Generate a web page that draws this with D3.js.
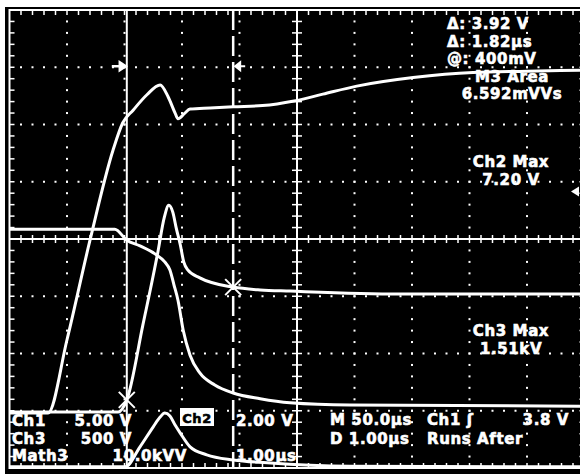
<!DOCTYPE html>
<html>
<head>
<meta charset="utf-8">
<script src="https://cdn.jsdelivr.net/npm/d3@7/dist/d3.min.js"></script>
<style>
body{margin:0;background:#fff;}
svg{display:block;}
text{font-family:"DejaVu Sans",sans-serif;font-weight:bold;font-size:15px;letter-spacing:0.6px;fill:#fff;stroke:#fff;stroke-width:0.6px;}
</style>
</head>
<body>
<script>
// all traces: t in divisions (1.00us/div), v in divisions from centre
var ch2T = [0, 0.67, 1.0, 1.40, 1.80, 1.97, 2.15, 2.39, 2.62, 2.76, 2.88, 2.93, 3.05, 3.14, 3.49, 3.89, 4.40, 4.95, 5.45, 6.04, 7.02, 8.06, 9.0, 10];
var ch2V = [-3.04, -3.04, -1.76, -0.02, 1.55, 2.03, 2.25, 2.52, 2.69, 2.48, 2.20, 2.10, 2.20, 2.27, 2.29, 2.31, 2.33, 2.41, 2.53, 2.67, 2.82, 2.91, 2.93, 2.95];

var ch3T = [0, 1.89, 2.04, 2.32, 2.58, 2.69, 2.77, 2.84, 2.90, 2.97, 3.03, 3.10, 3.31, 3.89, 4.36, 4.88, 6.79, 10];
var ch3V = [-3.02, -3.02, -2.81, -1.50, -0.23, 0.37, 0.59, 0.47, 0.19, -0.10, -0.40, -0.54, -0.68, -0.84, -0.89, -0.91, -0.96, -0.96];

var ch1T = [0, 1.83, 2.04, 2.27, 2.53, 2.70, 2.79, 2.86, 2.93, 3.02, 3.14, 3.31, 3.57, 3.89, 4.36, 4.88, 5.92, 10];
var ch1V = [0.17, 0.17, -0.02, -0.12, -0.26, -0.40, -0.54, -0.80, -1.07, -1.59, -2.03, -2.34, -2.55, -2.69, -2.79, -2.86, -2.90, -2.92];

var mathT = [0, 2.01, 2.27, 2.50, 2.62, 2.70, 2.79, 2.88, 2.97, 3.14, 3.43, 3.89, 4.48, 5.92, 10];
var mathV = [-3.98, -3.98, -3.63, -3.28, -3.11, -3.04, -3.09, -3.25, -3.39, -3.63, -3.77, -3.86, -3.91, -3.97, -3.98];

// cursors (time) and the marked points on Ch3
var cursorT = [2.04, 3.89];
var cursorV = [-2.81, -0.84];

// readouts
var topLeftLines = ["\u0394: 3.92 V", "\u0394: 1.82\u00b5s", "@: 400mV"];
var areaLines = ["M3 Area", "6.592mVVs"];
var ch2MaxLines = ["Ch2 Max", "7.20 V"];
var ch3MaxLines = ["Ch3 Max", "1.51kV"];
var chanNames = ["Ch1", "Ch3", "Math3"];
var chanScales = ["5.00 V", "500 V", "10.0kVV"];

window.onload = function(){
    var width = 580,
        height = 474,
        lh = 17.6; //readout line spacing

    var svg = d3.select("body")
        .append("svg")
        .attr("width", width)
        .attr("height", height);

    //screen: 10 x 8 divisions
    var x = d3.scaleLinear().domain([0, 10]).range([9.5, 584.5]);
    var y = d3.scaleLinear().domain([-4, 4]).range([468, 10]);

    svg.append("rect").attr("width", width).attr("height", height).attr("fill", "#fff");
    svg.append("rect")
        .attr("x", 5).attr("y", 7)
        .attr("width", width - 5).attr("height", height - 7)
        .attr("fill", "#000");

    var g = svg.append("g");

    //dotted graticule
    var minor = d3.range(1, 50).map(function(i){ return i * 0.2; }).filter(function(t){ return t < 9.99; });
    var minorY = d3.range(1, 40).map(function(i){ return -4 + i * 0.2; }).filter(function(v){ return v < 3.99; });
    [1, 2, 3, 4, 6, 7, 8, 9].forEach(function(t){
        g.selectAll(null)
            .data(minorY)
            .enter()
            .append("rect")
            .attr("x", x(t) - 1).attr("y", function(d){ return y(d) - 1; })
            .attr("width", 2).attr("height", 2)
            .attr("fill", "#fff");
    });
    [-3, -2, -1, 1, 2, 3].forEach(function(v){
        g.selectAll(null)
            .data(minor)
            .enter()
            .append("rect")
            .attr("x", function(d){ return x(d) - 1; }).attr("y", y(v) - 1)
            .attr("width", 2).attr("height", 2)
            .attr("fill", "#fff");
    });

    //border
    g.append("rect")
        .attr("x", x(0)).attr("y", y(4))
        .attr("width", x(10) - x(0)).attr("height", y(-4) - y(4))
        .attr("fill", "none").attr("stroke", "#fff").attr("stroke-width", 2);

    //centre axes
    g.append("line").attr("x1", x(0)).attr("x2", x(10)).attr("y1", y(0)).attr("y2", y(0))
        .attr("stroke", "#fff").attr("stroke-width", 2);
    g.append("line").attr("x1", x(5)).attr("x2", x(5)).attr("y1", y(4)).attr("y2", y(-4))
        .attr("stroke", "#fff").attr("stroke-width", 2);

    //ticks along border and centre axes
    var ticks = [];
    minor.forEach(function(t){
        ticks.push([x(t), y(4), x(t), y(4) + 5]);
        ticks.push([x(t), y(-4), x(t), y(-4) - 5]);
        ticks.push([x(t), y(0) - 4, x(t), y(0) + 4]);
    });
    minorY.forEach(function(v){
        ticks.push([x(0), y(v), x(0) + 5, y(v)]);
        ticks.push([x(10), y(v), x(10) - 5, y(v)]);
        ticks.push([x(5) - 5, y(v), x(5) + 5, y(v)]);
    });
    g.selectAll(".tick")
        .data(ticks)
        .enter()
        .append("line")
        .attr("class", "tick")
        .attr("x1", function(d){ return d[0]; }).attr("y1", function(d){ return d[1]; })
        .attr("x2", function(d){ return d[2]; }).attr("y2", function(d){ return d[3]; })
        .attr("stroke", "#fff").attr("stroke-width", 1.5);

    //cursors
    svg.append("line")
        .attr("x1", x(cursorT[0])).attr("x2", x(cursorT[0]))
        .attr("y1", y(4)).attr("y2", y(-4))
        .attr("stroke", "#fff").attr("stroke-width", 2);
    svg.append("line")
        .attr("x1", x(cursorT[1])).attr("x2", x(cursorT[1]))
        .attr("y1", y(4)).attr("y2", y(-4))
        .attr("stroke", "#fff").attr("stroke-width", 2.5)
        .attr("stroke-dasharray", "20,6");

    //cursor arrows
    var ay = y(3) - 1;
    svg.append("path")
        .attr("d", "M" + (x(cursorT[0]) - 15) + "," + ay + "H" + (x(cursorT[0]) - 5)
            + "M" + (x(cursorT[0]) - 7) + "," + (ay - 4) + "L" + (x(cursorT[0]) - 1) + "," + ay + "L" + (x(cursorT[0]) - 7) + "," + (ay + 4) + "Z")
        .attr("stroke", "#fff").attr("stroke-width", 2.5).attr("fill", "#fff");
    svg.append("path")
        .attr("d", "M" + (x(cursorT[1]) + 12) + "," + ay + "H" + (x(cursorT[1]) + 5)
            + "M" + (x(cursorT[1]) + 7) + "," + (ay - 4) + "L" + (x(cursorT[1]) + 2) + "," + ay + "L" + (x(cursorT[1]) + 7) + "," + (ay + 4) + "Z")
        .attr("stroke", "#fff").attr("stroke-width", 2).attr("fill", "#fff");

    //reference marker on the right edge
    svg.append("path")
        .attr("d", "M571," + (y(0.83)) + "L579," + (y(0.83) - 5) + "L579," + (y(0.83) + 5) + "Z")
        .attr("fill", "#fff");

    //traces
    var line = d3.line()
        .x(function(d){ return x(d[0]); })
        .y(function(d){ return y(d[1]); })
        .curve(d3.curveMonotoneX);

    var traces = [
        d3.zip(ch2T, ch2V),
        d3.zip(ch3T, ch3V),
        d3.zip(ch1T, ch1V),
        d3.zip(mathT, mathV)
    ];
    svg.selectAll(".trace")
        .data(traces)
        .enter()
        .append("path")
        .attr("class", "trace")
        .attr("d", line)
        .attr("fill", "none")
        .attr("stroke", "#fff")
        .attr("stroke-width", 3)
        .attr("stroke-linejoin", "round");

    //cursor marks on Ch3
    svg.selectAll(".xmark")
        .data(d3.zip(cursorT, cursorV))
        .enter()
        .append("path")
        .attr("class", "xmark")
        .attr("d", function(d){
            var cx = x(d[0]), cy = y(d[1]), r = 8;
            return "M" + (cx - r) + "," + (cy - r) + "L" + (cx + r) + "," + (cy + r)
                + "M" + (cx - r) + "," + (cy + r) + "L" + (cx + r) + "," + (cy - r);
        })
        .attr("stroke", "#fff").attr("stroke-width", 2);

    //readouts
    svg.selectAll(".ro1")
        .data(topLeftLines)
        .enter()
        .append("text")
        .attr("x", 447).attr("y", function(d, i){ return 29 + i * lh; })
        .text(function(d){ return d; });
    svg.selectAll(".ro2")
        .data(areaLines)
        .enter()
        .append("text")
        .attr("x", 512).attr("y", function(d, i){ return 29 + (i + 3) * lh; })
        .attr("text-anchor", "middle")
        .text(function(d){ return d; });
    svg.selectAll(".ro3")
        .data(ch2MaxLines)
        .enter()
        .append("text")
        .attr("x", 511).attr("y", function(d, i){ return 167 + i * lh; })
        .attr("text-anchor", "middle")
        .text(function(d){ return d; });
    svg.selectAll(".ro4")
        .data(ch3MaxLines)
        .enter()
        .append("text")
        .attr("x", 511).attr("y", function(d, i){ return 336 + i * lh; })
        .attr("text-anchor", "middle")
        .text(function(d){ return d; });

    //channel settings
    svg.selectAll(".cname")
        .data(chanNames)
        .enter()
        .append("text")
        .attr("x", 12).attr("y", function(d, i){ return 426 + i * lh; })
        .text(function(d){ return d; });
    svg.selectAll(".cscale")
        .data(chanScales)
        .enter()
        .append("text")
        .attr("x", function(d, i){ return i < 2 ? 132 : 187; })
        .attr("y", function(d, i){ return 426 + i * lh; })
        .attr("text-anchor", "end")
        .text(function(d){ return d; });

    svg.append("rect").attr("x", 180).attr("y", 408).attr("width", 34).attr("height", 18).attr("fill", "#fff");
    svg.append("text").attr("x", 197).attr("y", 423).attr("text-anchor", "middle")
        .style("fill", "#000").style("stroke", "#000").style("font-size", "13px").text("Ch2");
    svg.append("text").attr("x", 236).attr("y", 426).text("2.00 V");
    svg.append("text").attr("x", 236).attr("y", 461.2).text("1.00\u00b5s");

    svg.append("text").attr("x", 330).attr("y", 425).text("M 50.0\u00b5s");
    svg.append("text").attr("x", 330).attr("y", 444).text("D 1.00\u00b5s");
    svg.append("text").attr("x", 427).attr("y", 425).text("Ch1 \u0283");
    svg.append("text").attr("x", 427).attr("y", 444).text("Runs After");
    svg.append("text").attr("x", 569).attr("y", 425).attr("text-anchor", "end").text("3.8 V");
};
</script>
</body>
</html>
